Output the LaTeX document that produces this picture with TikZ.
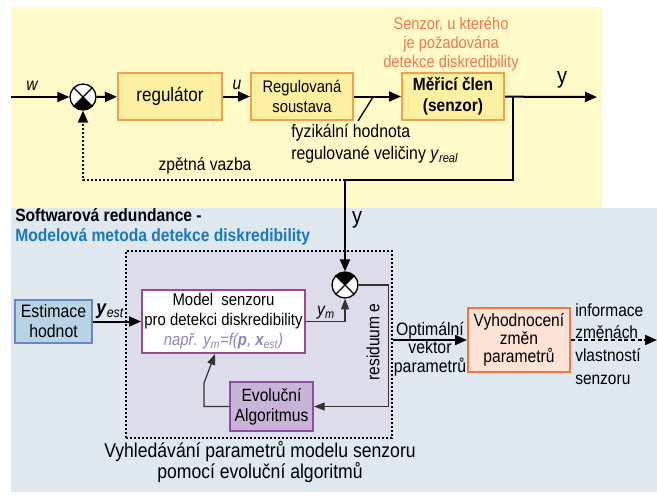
\documentclass[tikz,border=0pt]{standalone}
\usepackage{fontspec}
\setmainfont{Liberation Sans}[FakeStretch=0.88]
\usetikzlibrary{arrows.meta,positioning,calc}

\definecolor{bgyellow}{HTML}{FFFAC8}
\definecolor{bgblue}{HTML}{DEE8EE}
\definecolor{bgsearch}{HTML}{DCDCEA}
\definecolor{boxyellow}{HTML}{FDF0A0}
\definecolor{edgeorange}{HTML}{F2A050}
\definecolor{noteorange}{HTML}{F07850}
\definecolor{titleblue}{HTML}{1878C0}
\definecolor{estfill}{HTML}{B8D4E4}
\definecolor{estedge}{HTML}{6A86C6}
\definecolor{modeledge}{HTML}{A04888}
\definecolor{notepurple}{HTML}{8A84C8}
\definecolor{evofill}{HTML}{C8B4D8}
\definecolor{evoedge}{HTML}{8A4E9E}
\definecolor{vyhfill}{HTML}{FBE2D4}
\definecolor{vyhedge}{HTML}{EE7A40}

\begin{document}
\begin{tikzpicture}[
    x=0.75pt, y=-0.75pt,
    font=\fontsize{13.3}{15}\selectfont,
    lbl/.style={inner sep=0pt},
    blk/.style={draw=edgeorange, fill=boxyellow, line width=1.5pt, minimum height=35.25pt, minimum width=76.5pt, inner sep=1pt, align=center},
    sumc/.style={draw, fill=white, circle, line width=1pt, minimum size=19.5pt, inner sep=0pt},
    sig/.style={->, >={Triangle[length=9pt,width=7.5pt]}, line width=1.5pt},
    fine/.style={->, >={Triangle[length=8pt,width=6pt]}, line width=0.9pt, draw=black!80}
]
    \useasboundingbox (0,0) rectangle (657,497);
    \fill[bgyellow] (11,7) rectangle (602,208);
    \fill[bgblue] (11,208) rectangle (657,492);
    \node[draw, fill=bgsearch, line width=1.5pt, dash pattern=on 1.5pt off 1.5pt, minimum width=199.5pt, minimum height=140.25pt] (srch) at (259,344.5) {};

    % control loop
    \node[blk, minimum width=78pt, font=\fontsize{14.5}{17}\selectfont] (reg) at (170,96.5) {regulátor};
    \node[blk, font=\fontsize{12.6}{14.5}\selectfont] (sous) at (302,96.5) {Regulovaná\\soustava};
    \node[blk, font=\bfseries\fontsize{13.2}{16}\selectfont] (mer) at (453,96.5) {Měřicí člen\\(senzor)};
    \node[lbl, align=center, text=noteorange, font=\fontsize{12.5}{14}\selectfont] (note) at (451,44) {Senzor, u kterého\\je požadována\\detekce diskredibility};

    \node[sumc] (s1) at (83,97) {};
    \node[sumc] (s2) at (345,285) {};
    \foreach \s/\a in {s1/-135, s2/45} {
        \fill (\s.center) -- ++(\a:9.75pt) arc[start angle=\a, end angle=\a+90, radius=9.75pt] -- cycle;
        \draw[line width=1pt] (\s.center) ++(45:9.75pt) -- ++(-135:19.5pt);
        \draw[line width=1pt] (\s.center) ++(135:9.75pt) -- ++(-45:19.5pt);
    }

    \coordinate (win) at (11,97);
    \coordinate (yout) at (597,97);
    \coordinate (br) at (513,97);
    \coordinate (fb) at (345,180);
    \draw[sig] (win) -- (s1);
    \node[lbl] (lw) at (32,86) {\itshape w};
    \draw[sig] (s1) -- (reg);
    \draw[sig] (reg) -- (sous);
    \node[lbl] (lu) at (237,85) {\itshape u};
    \draw[sig] (sous) -- (mer);
    \draw[sig] (mer) -- (yout);
    \node[lbl, font=\fontsize{17}{17}\selectfont] (ly) at (562,80) {y};

    % physical value leader
    \node[lbl, anchor=west, align=left, font=\fontsize{13.5}{16.5}\selectfont] (lfyz) at (291,144) {fyzikální hodnota\\regulované veličiny \textit{y}\textsubscript{\itshape real}};
    \coordinate (tkA) at (358,121);
    \coordinate (tkB) at (373,97);
    \draw[line width=1pt] (tkA) -- (tkB);

    % feedback
    \draw[line width=1.5pt] (br) |- (fb);
    \draw[sig, dash pattern=on 1.5pt off 1.5pt] (fb) -| (s1.south);
    \node[lbl] (lfb) at (205,166) {zpětná vazba};

    % software redundancy part
    \node[lbl, anchor=west, align=left, font=\bfseries\fontsize{13.3}{15}\selectfont] (title) at (15,227) {Softwarová redundance -\\{\color{titleblue}Modelová metoda detekce diskredibility}};
    \node[lbl, align=center, font=\fontsize{15}{16}\selectfont] (lsrch) at (260,462) {Vyhledávání parametrů modelu senzoru\\pomocí evoluční algoritmů};

    \node[draw=estedge, fill=estfill, line width=1.5pt, minimum width=57.75pt, minimum height=32.25pt, inner sep=1pt, align=center, font=\fontsize{13.5}{15}\selectfont] (est) at (53.5,321.5) {Estimace\\hodnot};
    \node[draw=modeledge, fill=white, line width=1.5pt, minimum width=122.25pt, minimum height=47.25pt, inner sep=1pt, align=center, font=\fontsize{12.7}{15}\selectfont] (model) at (223.5,321.5) {Model~ senzoru\\pro detekci diskredibility\\{\color{notepurple}\itshape např. y\textsubscript{m}=f(\textbf{p}, \textbf{x}\textsubscript{est})}};
    \node[draw=evoedge, fill=evofill, line width=1.5pt, minimum width=62.25pt, minimum height=36.75pt, inner sep=1pt, align=center] (evo) at (271.5,406.5) {Evoluční\\Algoritmus};
    \node[draw=vyhedge, fill=vyhfill, line width=1.5pt, minimum width=76.5pt, minimum height=48pt, inner sep=1pt, align=center, font=\fontsize{13.3}{13.5}\selectfont] (vyh) at (519,340) {Vyhodnocení\\změn\\parametrů};

    \draw[sig] (est) -- (model);
    \node[lbl, anchor=west, font=\fontsize{15}{15}\selectfont] (lyest) at (96,311) {\textbf{\textit{y}}\textsubscript{\itshape est}};
    \draw[sig] (fb) -- (s2.north);
    \node[lbl, font=\fontsize{17}{17}\selectfont] (ly2) at (357,220) {y};
    \draw[fine] (model.east) -| (s2.south);
    \node[lbl] (lym) at (326,313) {\itshape y\textsubscript{m}};
    \draw[fine] (s2.east) -- ++(30,0) |- (evo.east);
    \node[lbl, rotate=90] (lres) at (373,342) {residuum e};
    \draw[fine] (evo.west) -- ++(-25,0) -- ++(0,-23.5) -- ($(model.south)+(-8.5,0)$);

    % evaluation
    \draw[sig] (srch.east |- vyh.west) -- (vyh.west);
    \node[lbl, align=center, font=\fontsize{13.5}{14}\selectfont] (lopt) at (430,349) {Optimální\\vektor\\parametrů};
    \coordinate (infout) at (657,340);
    \draw[sig, dash pattern=on 3pt off 2pt] (vyh.east) -- (infout);
    \node[lbl, anchor=west, align=left, font=\fontsize{13.2}{17}\selectfont] (linf) at (575,344) {informace\\změnách\\vlastností\\senzoru};
\end{tikzpicture}
\end{document}
